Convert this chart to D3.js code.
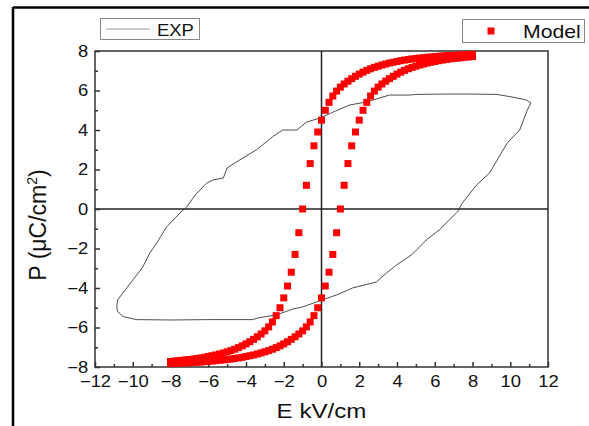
<!DOCTYPE html>
<html><head><meta charset="utf-8">
<script src="https://cdn.jsdelivr.net/npm/d3@7"></script>
<style>body{margin:0;background:#fff;} text{font-family:"Liberation Sans",Arial,sans-serif;}</style>
</head><body>
<svg id="c" width="589" height="426"></svg>
<script>
// ---- data ----
const xTicks = [-12,-10,-8,-6,-4,-2,0,2,4,6,8,10,12];
const yTicks = [-8,-6,-4,-2,0,2,4,6,8];

// experimental loop (E kV/cm, P µC/cm²), traced around the loop
const expE = [11.1,10.85,10.1,9.3,8.0,6.5,5.0,4.66,3.6,3.07,2.4,1.5,0.6,-0.1,-0.8,-1.3,-2.06,-2.6,-3.44,-4.34,-5.0,-5.2,-5.75,-6.1,-6.7,-7.14,-7.5,-8.2,-8.73,-9.1,-9.47,-10.0,-10.4,-10.8,-10.85,
  -10.8,-10.5,-9.8,-8.0,-6.0,-3.64,-3.3,-2.4,-1.5,-1.0,0.05,0.8,1.64,2.9,3.44,3.97,4.8,5.55,6.24,7.2,7.46,8.2,8.9,9.84,10.5,10.9,11.1];
const expP = [5.37,5.52,5.67,5.8,5.82,5.82,5.8,5.77,5.77,5.62,5.42,5.27,4.9,4.6,4.4,4.0,4.0,3.65,3.0,2.48,2.08,1.57,1.47,1.3,0.7,0.1,-0.2,-0.9,-1.72,-2.23,-2.94,-3.6,-4.1,-4.6,-4.96,
  -5.2,-5.45,-5.6,-5.62,-5.6,-5.6,-5.5,-5.37,-5.06,-4.96,-4.6,-4.35,-4.0,-3.7,-3.24,-2.84,-2.3,-1.57,-1.06,-0.15,0.3,1.2,1.82,3.34,4.0,5.0,5.37];

// model: field grid and both branches
const modelE = [-8,-7.8,-7.6,-7.4,-7.2,-7,-6.8,-6.6,-6.4,-6.2,-6,-5.8,-5.6,-5.4,-5.2,-5,-4.8,-4.6,-4.4,-4.2,-4,-3.8,-3.6,-3.4,-3.2,-3,-2.8,-2.6,-2.4,-2.2,-2,-1.8,-1.6,-1.4,-1.2,-1,-0.8,-0.6,-0.4,-0.2,0,
  0.2,0.4,0.6,0.8,1,1.2,1.4,1.6,1.8,2,2.2,2.4,2.6,2.8,3,3.2,3.4,3.6,3.8,4,4.2,4.4,4.6,4.8,5,5.2,5.4,5.6,5.8,6,6.2,6.4,6.6,6.8,7,7.2,7.4,7.6,7.8,8];
const modelDesc = [-7.72,-7.70,-7.68,-7.66,-7.64,-7.62,-7.60,-7.57,-7.54,-7.51,-7.47,-7.43,-7.39,-7.34,-7.29,-7.23,-7.17,-7.10,-7.02,-6.93,-6.83,-6.72,-6.60,-6.47,-6.33,-6.17,-5.97,-5.72,-5.40,-5.00,-4.50,-3.90,-3.20,-2.30,-1.20,0.00,1.20,2.30,3.20,3.90,4.50,
  5.00,5.40,5.72,5.97,6.17,6.33,6.47,6.60,6.72,6.83,6.93,7.02,7.10,7.17,7.23,7.29,7.34,7.39,7.43,7.47,7.51,7.54,7.57,7.60,7.62,7.64,7.66,7.68,7.70,7.72,7.73,7.75,7.76,7.77,7.78,7.79,7.80,7.81,7.82,7.83];
const modelAsc = [-7.83,-7.82,-7.81,-7.80,-7.79,-7.78,-7.77,-7.76,-7.75,-7.73,-7.72,-7.70,-7.68,-7.66,-7.64,-7.62,-7.60,-7.57,-7.54,-7.51,-7.47,-7.43,-7.39,-7.34,-7.29,-7.23,-7.17,-7.10,-7.02,-6.93,-6.83,-6.72,-6.60,-6.47,-6.33,-6.17,-5.97,-5.72,-5.40,-5.00,-4.50,
  -3.90,-3.20,-2.30,-1.20,0.00,1.20,2.30,3.20,3.90,4.50,5.00,5.40,5.72,5.97,6.17,6.33,6.47,6.60,6.72,6.83,6.93,7.02,7.10,7.17,7.23,7.29,7.34,7.39,7.43,7.47,7.51,7.54,7.57,7.60,7.62,7.64,7.66,7.68,7.70,7.72];

// ---- drawing ----
const svg = d3.select("#c");
const L=95, R=548, T=51, B=367;
const x = d3.scaleLinear().domain([-12,12]).range([L,R]);
const y = d3.scaleLinear().domain([-8,8]).range([B,T]);
const axisCol = "#333";
const SX = 1.15; // horizontal stretch of the text in the original

// outer frame (top and left)
svg.append("line").attr("x1",13).attr("x2",589).attr("y1",7.5).attr("y2",7.5).attr("stroke","#000").attr("stroke-width",2.5);
svg.append("line").attr("x1",13).attr("x2",13).attr("y1",7).attr("y2",426).attr("stroke","#000").attr("stroke-width",2.5);

// plot box
svg.append("rect").attr("x",L).attr("y",T).attr("width",R-L).attr("height",B-T)
  .attr("fill","none").attr("stroke",axisCol).attr("stroke-width",1.5);

// zero lines
svg.append("line").attr("x1",L).attr("x2",R).attr("y1",y(0)).attr("y2",y(0)).attr("stroke","#222").attr("stroke-width",1.5);
svg.append("line").attr("x1",x(0)).attr("x2",x(0)).attr("y1",T).attr("y2",B).attr("stroke","#222").attr("stroke-width",1.5);

// axes with inward ticks
const minorX = d3.range(-11,12,2), minorY = d3.range(-7,8,2);
const gx = svg.append("g").attr("transform",`translate(0,${B})`)
  .call(d3.axisBottom(x).tickValues(xTicks).tickSizeInner(-5).tickSizeOuter(0).tickPadding(9).tickFormat(d3.format("d")));
gx.select(".domain").remove();
gx.selectAll(".tick line").attr("stroke",axisCol).attr("stroke-width",1.5);
gx.selectAll(".tick text").attr("font-size",16).attr("fill","#111").attr("font-family","Liberation Sans, Arial")
  .attr("transform",`scale(${SX},1)`);
svg.append("g").attr("transform",`translate(0,${B})`)
  .call(d3.axisBottom(x).tickValues(minorX).tickSizeInner(-3).tickSizeOuter(0).tickFormat(""))
  .call(g=>{g.select(".domain").remove(); g.selectAll(".tick line").attr("stroke",axisCol).attr("stroke-width",1.5);});

const gy = svg.append("g").attr("transform",`translate(${L},0)`)
  .call(d3.axisLeft(y).tickValues(yTicks).tickSizeInner(-5).tickSizeOuter(0).tickPadding(6).tickFormat(d3.format("d")));
gy.select(".domain").remove();
gy.selectAll(".tick line").attr("stroke",axisCol).attr("stroke-width",1.5);
gy.selectAll(".tick text").attr("font-size",16).attr("fill","#111").attr("font-family","Liberation Sans, Arial")
  .attr("transform",`scale(${SX},1)`);
svg.append("g").attr("transform",`translate(${L},0)`)
  .call(d3.axisLeft(y).tickValues(minorY).tickSizeInner(-3).tickSizeOuter(0).tickFormat(""))
  .call(g=>{g.select(".domain").remove(); g.selectAll(".tick line").attr("stroke",axisCol).attr("stroke-width",1.5);});

// EXP line
const expData = expE.map((e,i)=>[e,expP[i]]);
svg.append("path").datum(expData)
  .attr("d", d3.line().x(d=>x(d[0])).y(d=>y(d[1])))
  .attr("fill","none").attr("stroke","#3a3a3a").attr("stroke-width",0.9);

// Model squares
const s = 7;
const modelData = modelE.map((e,i)=>[e,modelDesc[i]]).concat(modelE.map((e,i)=>[e,modelAsc[i]]));
svg.append("g").selectAll("rect").data(modelData).join("rect")
  .attr("x",d=>x(d[0])-s/2).attr("y",d=>y(d[1])-s/2).attr("width",s).attr("height",s)
  .attr("fill","#ff0000");

// axis titles
svg.append("text").attr("transform",`translate(${x(0)},418) scale(${SX},1)`).attr("text-anchor","middle")
  .attr("font-size",21).attr("fill","#111").text("E kV/cm");
const yt = svg.append("text").attr("transform","translate(46,225) rotate(-90)").attr("text-anchor","middle")
  .attr("font-size",23).attr("fill","#111");
yt.append("tspan").text("P (\u03BCC/cm");
yt.append("tspan").attr("font-size",14).attr("dy",-9).text("2");
yt.append("tspan").attr("dy",9).text(")");

// legends
svg.append("rect").attr("x",100.5).attr("y",18.5).attr("width",99).attr("height",21).attr("fill","#fff").attr("stroke","#888");
svg.append("line").attr("x1",106).attr("x2",150).attr("y1",29).attr("y2",29).attr("stroke","#999").attr("stroke-width",1.2);
svg.append("text").attr("transform",`translate(157,36) scale(${SX},1)`).attr("font-size",16).attr("fill","#111").text("EXP");

svg.append("rect").attr("x",462.5).attr("y",19.5).attr("width",122).attr("height",23).attr("fill","#fff").attr("stroke","#888");
svg.append("rect").attr("x",487.5).attr("y",27.5).attr("width",7).attr("height",7).attr("fill","#ff0000");
svg.append("text").attr("transform",`translate(523,37.5) scale(1.18,1)`).attr("font-size",18).attr("fill","#111").text("Model");
</script>
</body></html>
